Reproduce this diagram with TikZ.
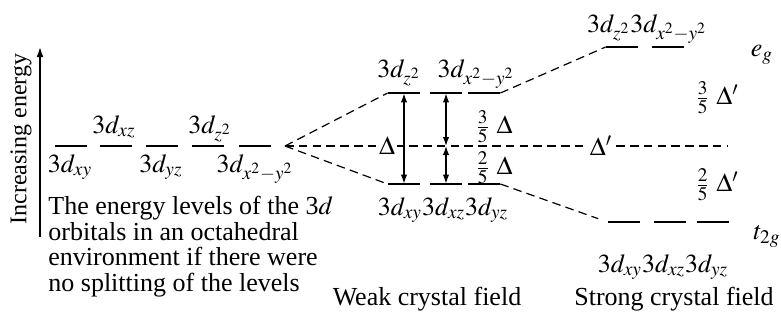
\documentclass[tikz,border=0pt]{standalone}
\usepackage{mathptmx}
\usepackage{fontspec}
\setmainfont{Liberation Serif}
\usetikzlibrary{arrows.meta, positioning}

\begin{document}
\begin{tikzpicture}[x=0.5pt, y=-0.5pt,
    font=\fontsize{13}{12.8}\selectfont,
    lvl/.style={inner sep=0pt, minimum width=16pt, minimum height=0pt,
        append after command={(\tikzlastnode.west) edge[line width=1pt] (\tikzlastnode.east)}},
    conn/.style={dash pattern=on 4.3pt off 2.6pt, line width=0.6pt},
    dblarrow/.style={{Latex[length=4.5pt,width=3.2pt]}-{Latex[length=4.5pt,width=3.2pt]}, line width=0.6pt},
    lbl/.style={anchor=base, inner sep=0pt}]
    \useasboundingbox (0,0) rectangle (781,323);

    % Energy axis
    \coordinate (axlo) at (40,237);
    \coordinate (axhi) at (40,47);
    \draw[-{Latex[length=5pt,width=3.4pt]}, line width=0.7pt] (axlo) -- (axhi);
    \node[rotate=90, font=\fontsize{12}{12}\selectfont] (axlabel) at (21,139) {Increasing energy};

    % Five degenerate levels
    \foreach \x [count=\i] in {71,116,162,208,255}
        \node[lvl] (d\i) at (\x,146) {};
    \node[lbl] (dxy) at (70,172) {$3d_{xy}$};
    \node[lbl] (dxz) at (114,133) {$3d_{xz}$};
    \node[lbl] (dyz) at (161,172) {$3d_{yz}$};
    \node[lbl] (dz2) at (210,133) {$3d_{z^2}$};
    \node[lbl] (dx2) at (255,172) {$3d_{x^2-y^2}$};
    \node[anchor=north west, inner sep=0pt, align=left] (note) at (48,196)
        {The energy levels of the 3$d$\\ orbitals in an octahedral\\
         environment if there were\\ no splitting of the levels};

    % Weak field levels
    \foreach \x [count=\i] in {404,446,484} {
        \node[lvl] (wu\i) at (\x,93) {};
        \node[lvl] (wl\i) at (\x,184) {};
    }
    \node[lbl] (wz2) at (399,77) {$3d_{z^2}$};
    \node[lbl] (wx2) at (476,77) {$3d_{x^2-y^2}$};
    \node[lbl] (wt2) at (443,215) {$3d_{xy}3d_{xz}3d_{yz}$};
    \node[lbl] (weak) at (427,305) {Weak crystal field};

    % Strong field levels
    \foreach \x [count=\i] in {622,668}
        \node[lvl] (su\i) at (\x,47) {};
    \foreach \x [count=\i] in {624,670,713}
        \node[lvl] (sl\i) at (\x,222) {};
    \node[lbl] (sz2) at (647,32) {$3d_{z^2}3d_{x^2-y^2}$};
    \node[lbl] (st2) at (663,272) {$3d_{xy}3d_{xz}3d_{yz}$};
    \node (eg) at (762,55) {$e_g$};
    \node (t2g) at (767,236) {$t_{2g}$};
    \node[lbl] (strong) at (674,305) {Strong crystal field};

    % Dashed connectors
    \coordinate (conv) at (285,146);
    \coordinate (midend) at (727,146);
    \draw[conn] (conv) -- (midend);
    \draw[conn] (conv) -- (wu1.west);
    \draw[conn] (conv) -- (wl1.west);
    \draw[conn] (wu3.east) -- (su1.west);
    \draw[conn, shorten >=5pt] (wl3.east) -- (sl1.west);

    % Splitting arrows
    \coordinate (wm2) at (446,146);
    \draw[dblarrow] (wu1) -- (wl1);
    \draw[dblarrow] (wu2) -- (wm2);
    \draw[dblarrow] (wm2) -- (wl2);

    % Splitting labels
    \node[fill=white, inner sep=1pt] (delta) at (387,146) {$\Delta$};
    \node (wup) at (494,127) {$\frac{3}{5}\ \Delta$};
    \node (wdn) at (494,168) {$\frac{2}{5}\ \Delta$};
    \node[fill=white, inner sep=1pt] (deltap) at (601,146) {$\Delta'$};
    \node (sup) at (717,98) {$\frac{3}{5}\ \Delta'$};
    \node (sdn) at (717,185) {$\frac{2}{5}\ \Delta'$};
\end{tikzpicture}
\end{document}
